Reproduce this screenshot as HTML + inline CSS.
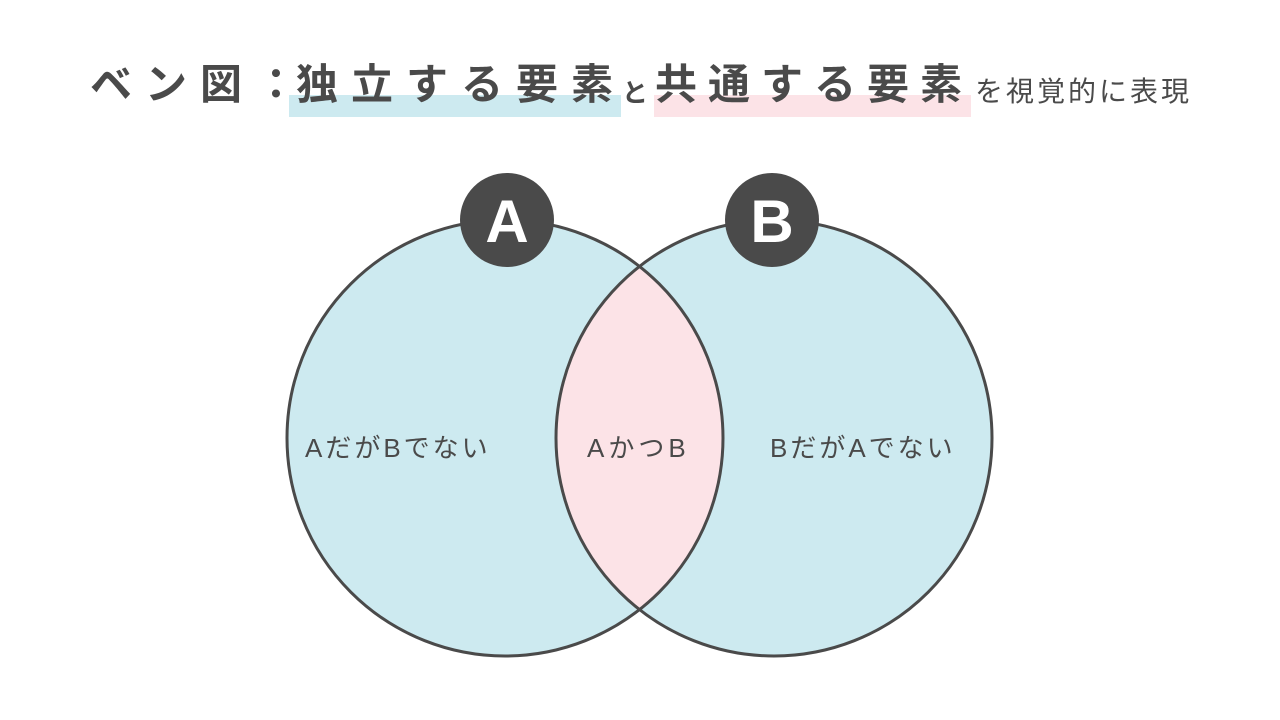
<!DOCTYPE html>
<html><head><meta charset="utf-8"><style>
body{margin:0;width:1280px;height:720px;background:#fff;position:relative;overflow:hidden;font-family:"Liberation Sans","Noto Sans CJK JP",sans-serif;color:#4a4a4a}
.t{position:absolute;white-space:nowrap;font-weight:bold;line-height:1}
.hl{position:absolute;height:22px;top:95px}
</style></head><body>
<div class="hl" style="left:289px;width:332px;background:#cdeaf0"></div>
<div class="hl" style="left:654px;width:317px;background:#fce3e7"></div>
<div class="t" style="left:90px;top:64px;font-size:42px;letter-spacing:13px">ベン図：</div>
<div class="t" style="left:296px;top:64px;font-size:42px;letter-spacing:13px">独立する要素</div>
<div class="t" style="left:622px;top:80px;font-size:26px">と</div>
<div class="t" style="left:655px;top:64px;font-size:42px;letter-spacing:11px">共通する要素</div>
<div class="t" style="left:975px;top:78px;font-size:28px;letter-spacing:3px;font-weight:normal">を視覚的に表現</div>
<svg width="1280" height="720" style="position:absolute;left:0;top:0">
<defs><clipPath id="ca"><circle cx="505" cy="438" r="218"/></clipPath></defs>
<circle cx="505" cy="438" r="218" fill="#cdeaf0"/>
<circle cx="774" cy="438" r="218" fill="#cdeaf0"/>
<circle cx="774" cy="438" r="218" fill="#fce3e7" clip-path="url(#ca)"/>
<circle cx="505" cy="438" r="218" fill="none" stroke="#4a4a4a" stroke-width="3"/>
<circle cx="774" cy="438" r="218" fill="none" stroke="#4a4a4a" stroke-width="3"/>
<circle cx="507" cy="220" r="47" fill="#4a4a4a"/>
<circle cx="772" cy="220" r="47" fill="#4a4a4a"/>
<text x="507" y="242" text-anchor="middle" font-size="60" font-weight="bold" fill="#fff" font-family="Liberation Sans,sans-serif">A</text>
<text x="772" y="242" text-anchor="middle" font-size="60" font-weight="bold" fill="#fff" font-family="Liberation Sans,sans-serif">B</text>
<g font-size="26" fill="#4a4a4a" font-family="Liberation Sans,Noto Sans CJK JP,sans-serif" letter-spacing="3">
<text x="305" y="457">AだがBでない</text>
<text x="587" y="457" letter-spacing="4">AかつB</text>
<text x="770" y="457">BだがAでない</text>
</g>
</svg>
</body></html>
